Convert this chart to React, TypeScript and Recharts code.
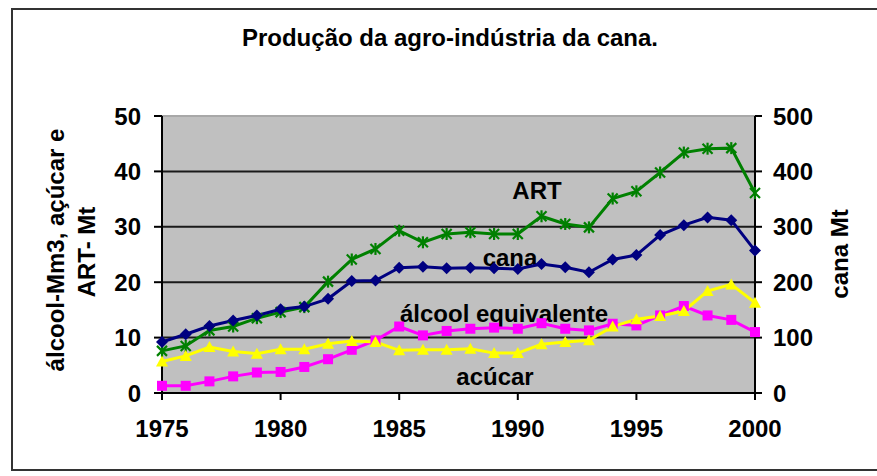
import React from 'react';
import { LineChart, Line, XAxis, YAxis, CartesianGrid, ReferenceLine, Customized } from 'recharts';

const years = [1975, 1976, 1977, 1978, 1979, 1980, 1981, 1982, 1983, 1984, 1985, 1986, 1987, 1988, 1989, 1990, 1991, 1992, 1993, 1994, 1995, 1996, 1997, 1998, 1999, 2000];
const art = [7.6, 8.5, 11.3, 12.0, 13.5, 14.6, 15.5, 20.1, 24.1, 26.0, 29.3, 27.2, 28.7, 29.0, 28.7, 28.7, 31.9, 30.5, 29.9, 35.1, 36.4, 39.8, 43.4, 44.1, 44.2, 36.1];
const cana = [92, 106, 121, 131, 140, 151, 156, 170, 202, 203, 226, 228, 225, 226, 225, 224, 233, 227, 218, 241, 249, 285, 303, 317, 312, 257];
const alcool = [5.7, 6.7, 8.3, 7.5, 7.1, 7.9, 7.9, 8.9, 9.4, 9.2, 7.7, 7.8, 7.8, 8.0, 7.2, 7.2, 8.8, 9.2, 9.5, 12.0, 13.3, 13.9, 14.8, 18.4, 19.6, 16.3];
const acucar = [1.3, 1.3, 2.1, 3.0, 3.7, 3.8, 4.7, 6.1, 7.8, 9.5, 12.0, 10.4, 11.2, 11.6, 11.8, 11.6, 12.6, 11.6, 11.3, 12.5, 12.2, 14.0, 15.7, 14.0, 13.2, 11.0];
const xTicks = [1975, 1980, 1985, 1990, 1995, 2000];
const leftTicks = [0, 10, 20, 30, 40, 50];
const rightTicks = [0, 100, 200, 300, 400, 500];

const title = 'Produção da agro-indústria da cana.';
const leftTitle1 = 'álcool-Mm3, açúcar e';
const leftTitle2 = 'ART- Mt';
const rightTitle = 'cana Mt';

const rows = years.map((y, i) => ({ year: y, art: art[i], cana: cana[i], alcool: alcool[i], acucar: acucar[i] }));

const FONT = "'Liberation Sans', Arial, sans-serif";
const tickStyle = { fill: '#000', fontSize: 24, fontWeight: 700, fontFamily: FONT };

const StarDot = (p: any) => {
  const { cx, cy, index } = p;
  if (cx == null || cy == null) return <g key={`st${index}`} />;
  const r = 5;
  return (
    <g key={`st${index}`} stroke="#008000" strokeWidth={2.2}>
      <line x1={cx - r} y1={cy - r} x2={cx + r} y2={cy + r} />
      <line x1={cx - r} y1={cy + r} x2={cx + r} y2={cy - r} />
      <line x1={cx} y1={cy - r - 1} x2={cx} y2={cy + r + 1} />
    </g>
  );
};
const DiamondDot = (p: any) => {
  const { cx, cy, index } = p;
  if (cx == null || cy == null) return <g key={`dm${index}`} />;
  const r = 6;
  return <polygon key={`dm${index}`} points={`${cx},${cy - r} ${cx + r},${cy} ${cx},${cy + r} ${cx - r},${cy}`} fill="#000080" />;
};
const SquareDot = (p: any) => {
  const { cx, cy, index } = p;
  if (cx == null || cy == null) return <g key={`sq${index}`} />;
  const r = 5;
  return <rect key={`sq${index}`} x={cx - r} y={cy - r} width={2 * r} height={2 * r} fill="#FF00FF" />;
};
const TriDot = (p: any) => {
  const { cx, cy, index } = p;
  if (cx == null || cy == null) return <g key={`tr${index}`} />;
  const r = 6;
  return <polygon key={`tr${index}`} points={`${cx},${cy - r} ${cx + r},${cy + r - 1} ${cx - r},${cy + r - 1}`} fill="#FFFF00" />;
};

const PlotLabels = () => (
  <g style={{ fontFamily: FONT, fontWeight: 700, fontSize: 24 }} fill="#000">
    <text x={537} y={199} textAnchor="middle">ART</text>
    <text x={510} y={266} textAnchor="middle">cana</text>
    <text x={504} y={322} textAnchor="middle">álcool equivalente</text>
    <text x={495} y={385} textAnchor="middle">acúcar</text>
  </g>
);

export default function App() {
  return (
    <div style={{ position: 'absolute', left: 0, top: 0, width: 877, height: 476, overflow: 'hidden', background: '#fff' }}>
      <div style={{ position: 'absolute', left: 11, top: 8, width: 900, height: 463, border: '2px solid #333', boxSizing: 'border-box' }} />
      <LineChart width={877} height={476} data={rows} margin={{ top: 116, right: 0, bottom: 0, left: 0 }} style={{ position: 'absolute', left: 0, top: 0 }}>
        <CartesianGrid yAxisId="l" vertical={false} stroke="#1a1a1a" strokeWidth={2} fill="#C0C0C0" fillOpacity={1} />
        <XAxis dataKey="year" type="number" domain={[1975, 2000]} ticks={xTicks} interval={0} height={83} tickSize={7} tickMargin={20}
          axisLine={{ stroke: '#000', strokeWidth: 2 }} tickLine={{ stroke: '#000', strokeWidth: 2 }} tick={tickStyle} />
        <YAxis yAxisId="l" domain={[0, 50]} ticks={leftTicks} interval={0} width={162} tickSize={8} tickMargin={13}
          axisLine={{ stroke: '#000', strokeWidth: 2 }} tickLine={{ stroke: '#000', strokeWidth: 2 }} tick={tickStyle} />
        <YAxis yAxisId="r" orientation="right" domain={[0, 500]} ticks={rightTicks} interval={0} width={122} tickSize={7} tickMargin={11}
          axisLine={{ stroke: '#000', strokeWidth: 2 }} tickLine={{ stroke: '#000', strokeWidth: 2 }} tick={tickStyle} />
        <ReferenceLine yAxisId="l" y={50} stroke="#a8a8a8" strokeWidth={2} />
        <Customized component={PlotLabels} />
        <Line yAxisId="l" dataKey="art" stroke="#008000" strokeWidth={3} dot={StarDot} isAnimationActive={false} />
        <Line yAxisId="l" dataKey="acucar" stroke="#FF00FF" strokeWidth={3} dot={SquareDot} isAnimationActive={false} />
        <Line yAxisId="l" dataKey="alcool" stroke="#FFFF00" strokeWidth={3} dot={TriDot} isAnimationActive={false} />
        <Line yAxisId="r" dataKey="cana" stroke="#000080" strokeWidth={3} dot={DiamondDot} isAnimationActive={false} />
      </LineChart>
      <svg width={877} height={476} style={{ position: 'absolute', left: 0, top: 0, pointerEvents: 'none' }}>
        <g style={{ fontFamily: FONT, fontWeight: 700 }} fill="#000">
          <text x={450} y={46} textAnchor="middle" fontSize={24}>{title}</text>
          <text transform="translate(64,250) rotate(-90)" textAnchor="middle" fontSize={24}>{leftTitle1}</text>
          <text transform="translate(95,252) rotate(-90)" textAnchor="middle" fontSize={24}>{leftTitle2}</text>
          <text transform="translate(848,254) rotate(-90)" textAnchor="middle" fontSize={24}>{rightTitle}</text>
        </g>
      </svg>
    </div>
  );
}
